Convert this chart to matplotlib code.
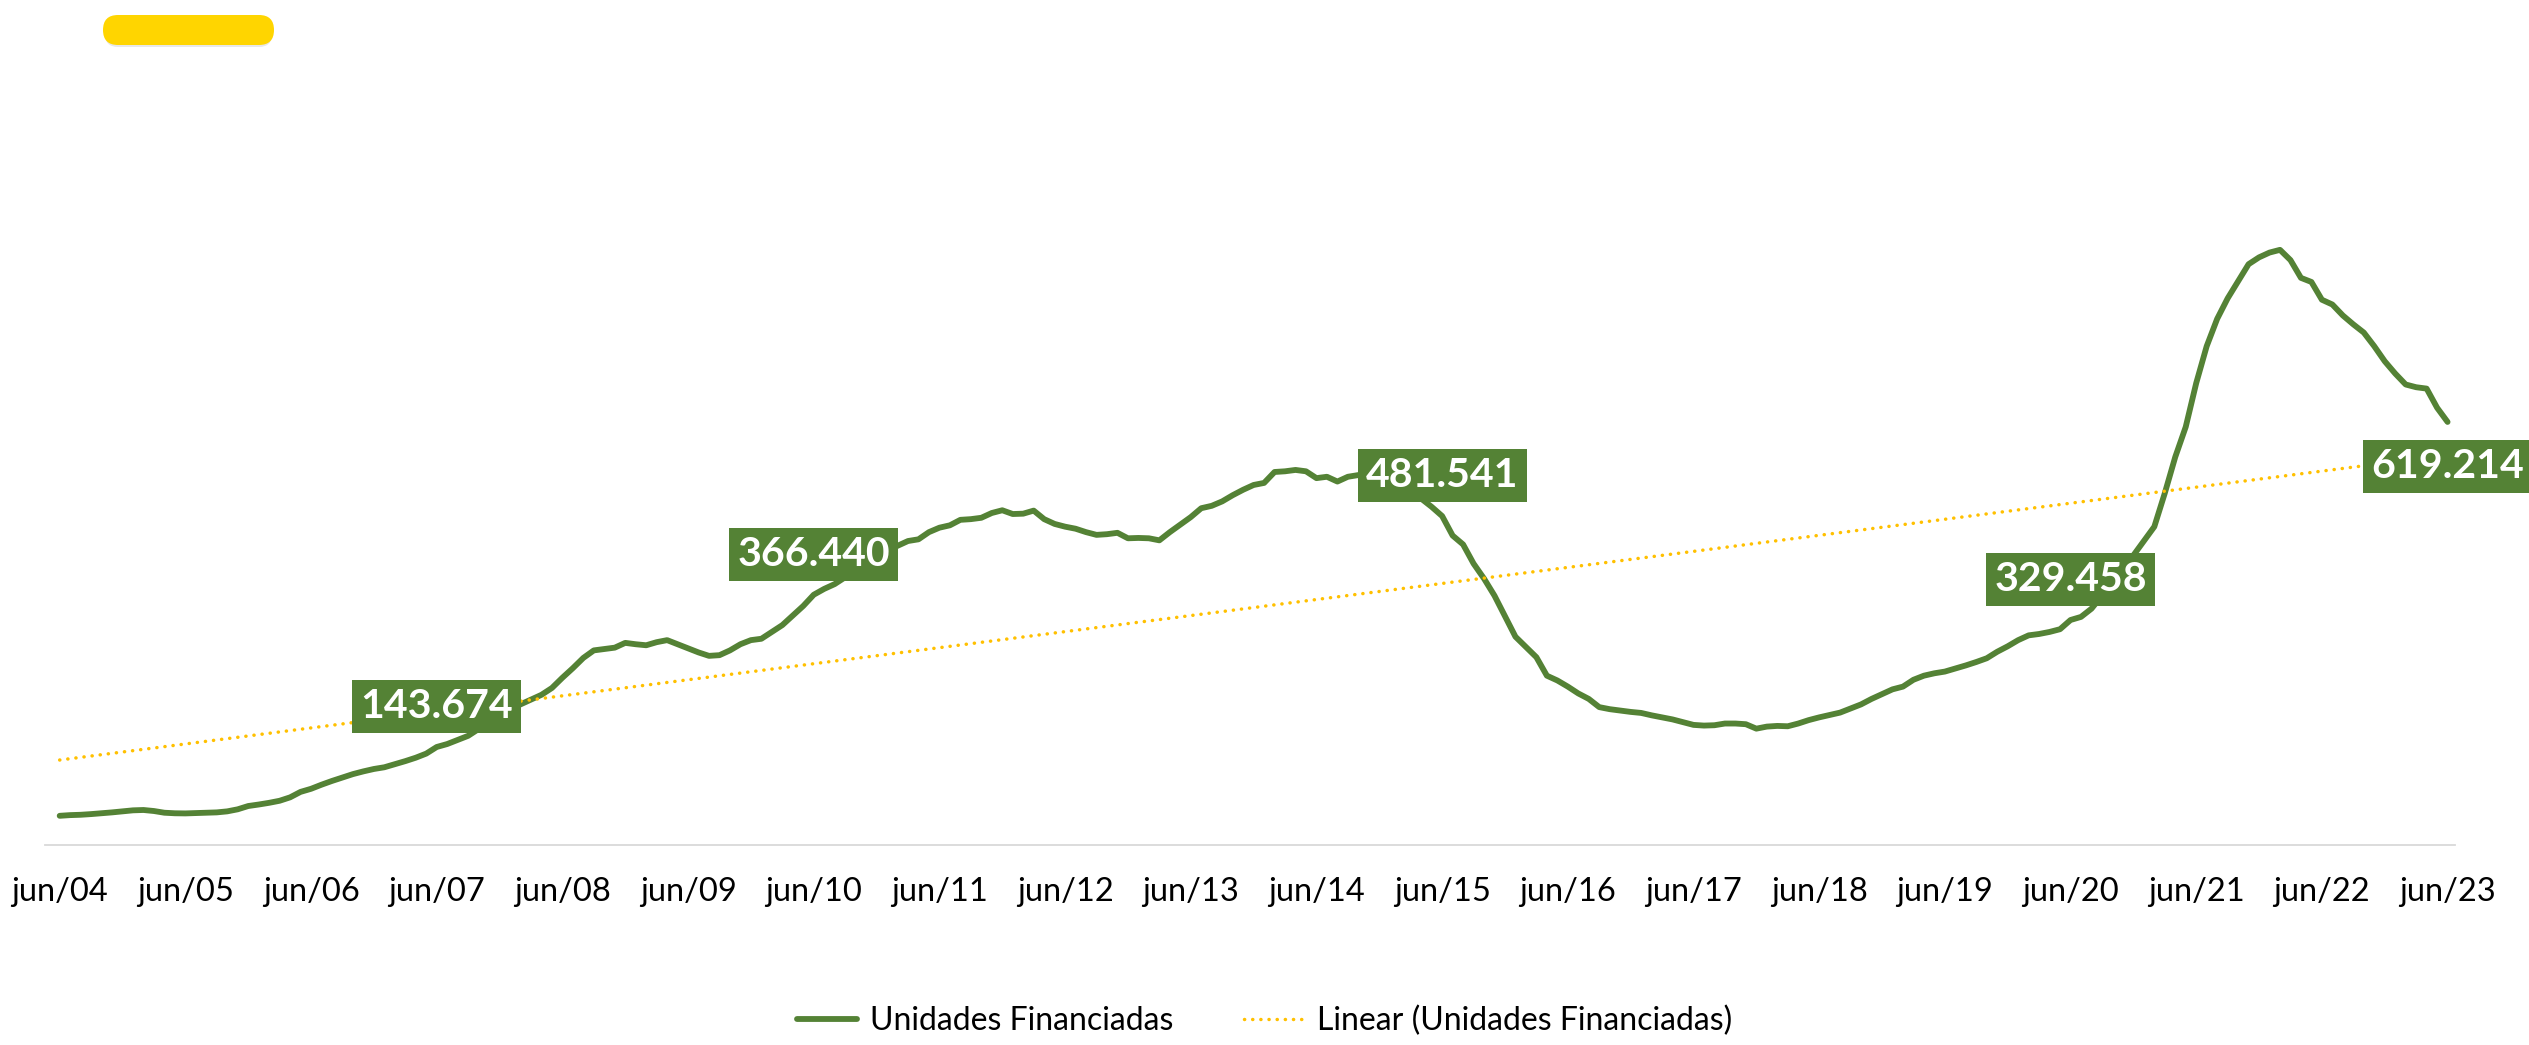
import numpy as np
import pandas as pd
import matplotlib
matplotlib.use("Agg")
import matplotlib.pyplot as plt
from matplotlib.patches import FancyBboxPatch

plt.rcParams['font.family'] = ['Lato', 'DejaVu Sans']

# Unidades financiadas (acumulado 12 meses, em milhares) - jun/04 a jun/23, mensal
months = pd.date_range("2004-06-01", periods=229, freq="MS")
unidades = [
    43, 44, 44.5, 45.5, 46.7, 48, 49.5, 51, 51.5, 50, 47.5, 46.7,
    46.5, 47, 47.5, 48, 49.5, 52.5, 57.3, 59.5, 62, 65, 70, 78,
    82.5, 88.5, 94, 99, 104, 108, 111.5, 114, 118.5, 123, 128, 134,
    143.674, 148, 154, 160, 170, 180, 190, 199, 206, 213, 220, 230,
    245, 259, 274, 285, 287, 289, 296, 294, 292.5, 297, 300, 294,
    288, 282, 277, 278, 285, 294, 300, 302, 312, 322, 336, 350,
    366.440, 375, 382, 392, 403, 413, 421, 430, 438, 445, 447.5, 458,
    464.5, 468, 476, 477, 479, 486, 490, 484.5, 485, 489.5, 477, 470,
    466, 463, 458, 454, 455, 457, 449, 449.5, 449, 446, 458, 469,
    480, 493, 496.5, 503, 512, 520, 527, 530, 546, 547, 549, 547,
    537, 539, 532, 539, 541.5, 540, 538, 535, 528, 518, 507, 495,
    481.541, 453, 440, 412, 390, 365, 335, 305, 290, 275, 248, 241,
    232, 222, 214, 202, 199, 197, 195, 193.5, 190, 187, 184, 180,
    176, 175, 175.5, 178, 178, 177, 170.5, 173.5, 174.5, 174, 178, 183,
    187, 190.5, 194, 200, 206, 214, 221, 228, 232, 242, 248, 251.5,
    254, 258.5, 263, 268, 273.5, 283, 291, 300, 307, 309, 312, 316,
    329.458, 334, 346, 365, 385, 405, 424, 445, 466, 515, 568, 612,
    676, 730, 770, 800, 825, 850, 860, 867, 871, 856, 830, 824,
    798, 791, 775, 762, 750, 730, 708, 690, 674, 670, 668, 640,
    619.214,
]
tick_labels = ["jun/04", "jun/05", "jun/06", "jun/07", "jun/08", "jun/09", "jun/10",
               "jun/11", "jun/12", "jun/13", "jun/14", "jun/15", "jun/16", "jun/17",
               "jun/18", "jun/19", "jun/20", "jun/21", "jun/22", "jun/23"]
label_months = ["2007-06", "2010-06", "2015-06", "2020-06", "2023-06"]
label_below = [False, False, False, False, True]

green = "#548235"
gold = "#FFC000"

y = np.array(unidades)
x = np.arange(len(y))

fig = plt.figure(figsize=(25.29, 10.45), dpi=100)
ax = fig.add_axes([0.0178, 0.1912, 0.9529, 0.6541])

ax.plot(x, y, color=green, lw=4.2, solid_capstyle="round", solid_joinstyle="round",
        label="Unidades Financiadas", zorder=3)

# linha de tendencia linear
coef = np.polyfit(x, y, 1)
ax.plot(x, np.polyval(coef, x), color=gold, lw=2.5, ls=(0, (0.05, 2.3)),
        dash_capstyle="round", label="Linear (Unidades Financiadas)", zorder=4)

# rotulos de dados
for lm, below in zip(label_months, label_below):
    i = list(months.strftime("%Y-%m")).index(lm)
    txt = f"{y[i] * 1000:,.0f}".replace(",", ".")
    ax.annotate(txt, (x[i], y[i]), xytext=(0, -32 if below else 29),
                textcoords="offset points", ha="center", va="center",
                fontsize=29.5, fontweight="bold", color="white",
                bbox=dict(boxstyle="square,pad=0.2", fc=green, ec="none"),
                zorder=5, annotation_clip=False)

ax.set_xlim(-1.4, 228.7)
ax.set_ylim(0, 1000)
ax.set_xticks(x[::12])
ax.set_xticklabels(tick_labels, fontsize=23.5, color="#000000")
ax.tick_params(axis="x", length=0, pad=23)
ax.set_yticks([])
for s in ["left", "right", "top"]:
    ax.spines[s].set_visible(False)
ax.spines["bottom"].set_color("#D9D9D9")
ax.spines["bottom"].set_linewidth(1.3)

fig.legend(loc="center", bbox_to_anchor=(0.5, 1 - 1021 / 1045), ncol=2, frameon=False,
           fontsize=23, handlelength=1.9, handletextpad=0.4, columnspacing=2.2)

# marcador amarelo no topo
fig.add_artist(FancyBboxPatch((1.05, 9.98), 1.67, 0.27, boxstyle="round,pad=0,rounding_size=0.13",
                              transform=fig.dpi_scale_trans, fc="#E8E8E8", ec="none"))
fig.add_artist(FancyBboxPatch((1.03, 10.0), 1.71, 0.30, boxstyle="round,pad=0,rounding_size=0.15",
                              transform=fig.dpi_scale_trans, fc="#FFD500", ec="none"))

fig.savefig("out.png", dpi=100, facecolor="white")
